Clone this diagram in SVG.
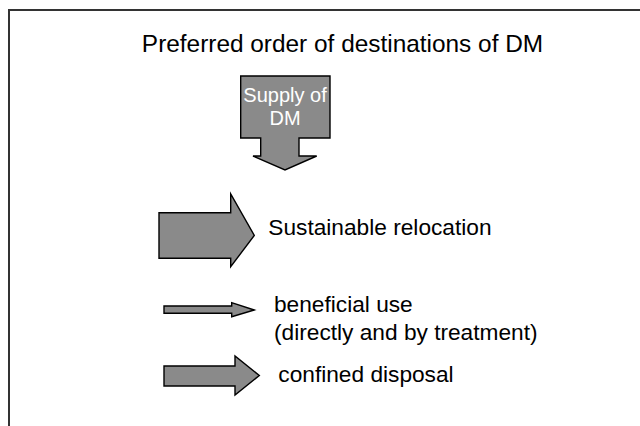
<svg xmlns="http://www.w3.org/2000/svg" width="640" height="426" viewBox="0 0 640 426">
  <style>
    .arrow { fill: #8a8a8a; stroke: #000; stroke-width: 1.4; stroke-linejoin: miter; }
    .txt { font-family: "Liberation Sans", Arial, sans-serif; fill: #000; }
    .frame { fill: none; stroke: #333; stroke-width: 2; }
  </style>
  <rect width="640" height="426" fill="#fff"/>
  <!-- slide frame: top and left edges only -->
  <path class="frame" d="M9,426 V10 H640"/>

  <g id="title">
    <text class="txt" x="342.5" y="51.5" font-size="24.4" text-anchor="middle">Preferred order of destinations of DM</text>
  </g>

  <g id="supply">
    <path class="arrow" d="M240.7,76 H330 V138 H299 V156 H316.7 L285,170 L253,156 H260.7 V138 H240.7 Z"/>
    <text class="txt" x="285" y="101.5" font-size="20" text-anchor="middle" fill="#fff" style="fill:#fff">Supply of</text>
    <text class="txt" x="285" y="125" font-size="20" text-anchor="middle" style="fill:#fff">DM</text>
  </g>

  <g id="relocation">
    <path class="arrow" d="M159,212.7 H230.7 V194 L254.3,235.5 L230.7,266.7 V258.3 H159 Z"/>
    <text class="txt" x="268.3" y="235" font-size="22.7">Sustainable relocation</text>
  </g>

  <g id="beneficial">
    <path class="arrow" d="M164,306 H231.7 V302.7 L254.3,310 L231.7,316.7 V313.3 H164 Z"/>
    <text class="txt" x="274" y="312.3" font-size="22.7">beneficial use</text>
    <text class="txt" x="274" y="340" font-size="22.7">(directly and by treatment)</text>
  </g>

  <g id="disposal">
    <path class="arrow" d="M164,366 H235 V356 L259.3,375.5 L235,395 V386 H164 Z"/>
    <text class="txt" x="278.3" y="381.7" font-size="22.7">confined disposal</text>
  </g>

  <g id="connectors"/>
</svg>
